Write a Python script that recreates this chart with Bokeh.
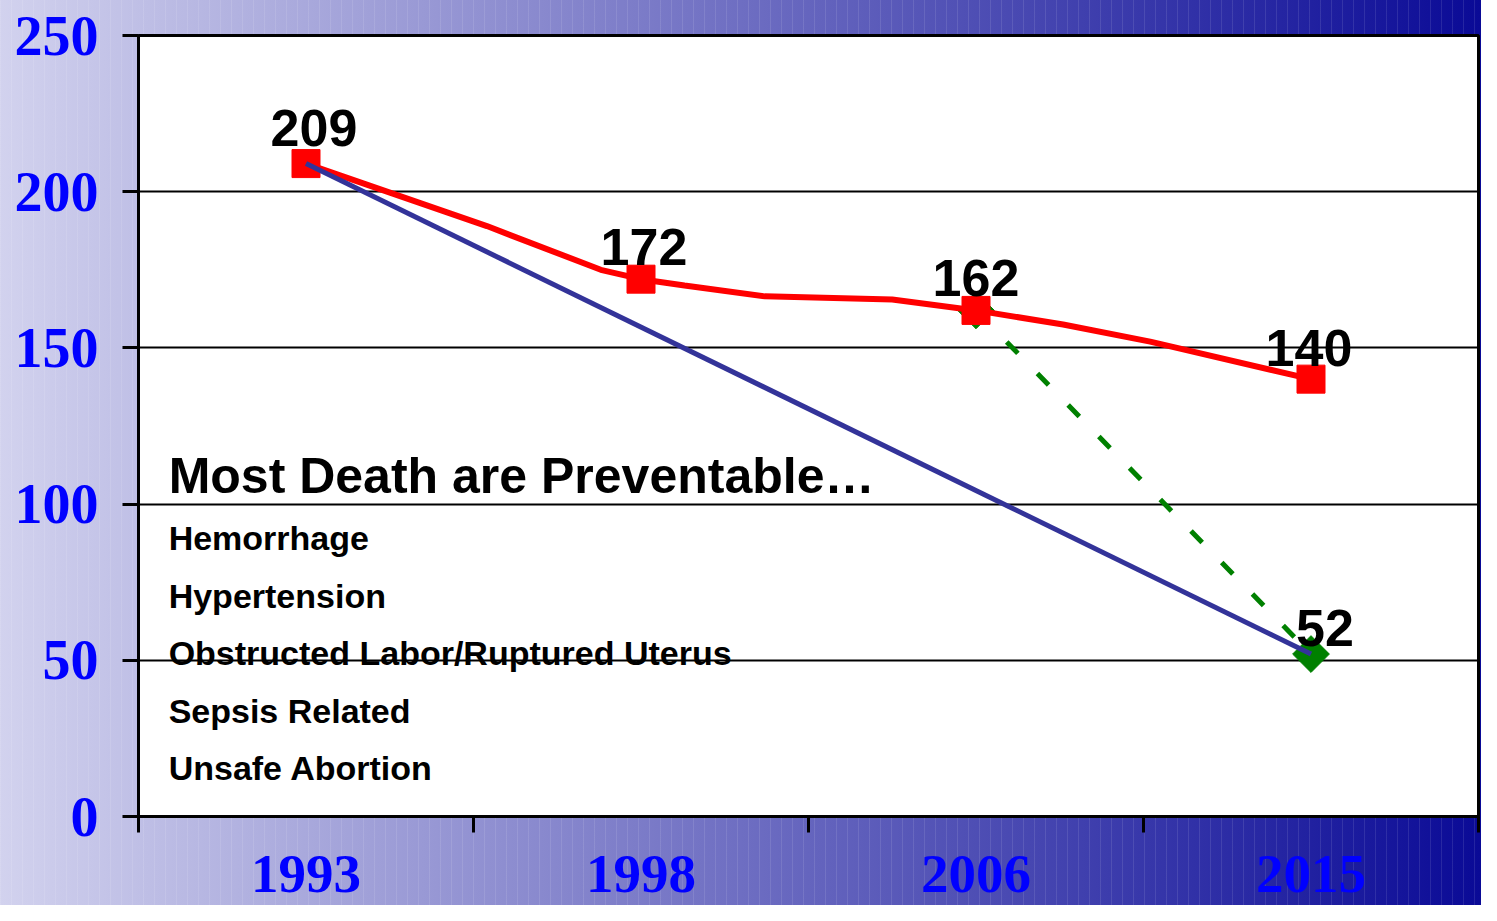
import math
from bokeh.plotting import figure
from bokeh.models import ColumnDataSource, FixedTicker, LabelSet, Label, InlineStyleSheet
from bokeh.core.properties import value
from bokeh.embed import file_html
from bokeh.resources import INLINE

# ---------------- data ----------------
years = ["1993", "1998", "2006", "2015"]
mmr = [209, 172, 162, 140]
# red trend path as drawn in the picture (x in category units, 0.5 = 1993 ... 3.5 = 2015)
trend_x = [0.5, 1.04, 1.38, 1.5, 1.63, 1.87, 2.25, 2.5, 2.76, 3.02, 3.5]
trend_y = [209, 189, 175, 172, 170, 166.5, 165.5, 162, 157.5, 152, 140]
target_years = ["1993", "2015"]
target_vals = [209, 52]
needed_years = ["2006", "2015"]
needed_vals = [162, 52]
y_ticks = [0, 50, 100, 150, 200, 250]
title_text = "Most Death are Preventable…"
causes = ["Hemorrhage", "Hypertension", "Obstructed Labor/Ruptured Uterus",
          "Sepsis Related", "Unsafe Abortion"]

pos = {y: i + 0.5 for i, y in enumerate(years)}

SANS = "Liberation Sans"
SERIF = "Liberation Serif"

p = figure(width=1481, height=905, x_range=(0, 4), y_range=(0, 250),
           output_backend="svg", toolbar_location=None,
           min_border_left=138, min_border_right=3, min_border_top=35,
           min_border_bottom=89)

p.background_fill_color = "white"
p.border_fill_color = None
p.outline_line_color = "black"
p.outline_line_width = 3
p.stylesheets = [InlineStyleSheet(css="""
:host {
  background:
    repeating-linear-gradient(90deg, rgba(255,255,255,0.10) 0px, rgba(255,255,255,0.10) 1px,
                              rgba(255,255,255,0) 1px, rgba(255,255,255,0) 11px),
    linear-gradient(to right, #d2d2ee 0%, #0a0a96 100%);
}
""")]

# x axis: labels centred in categories, ticks at boundaries
xa = p.xaxis[0]
xa.ticker = FixedTicker(ticks=[pos[y] for y in years], minor_ticks=[0, 1, 2, 3, 4])
xa.major_label_overrides = {pos[y]: y for y in years}
xa.major_tick_line_color = None
xa.major_tick_out = 0
xa.major_tick_in = 0
xa.minor_tick_out = 16
xa.minor_tick_in = 0
xa.minor_tick_line_width = 3
xa.minor_tick_line_color = "black"
xa.axis_line_width = 3
xa.axis_line_color = "black"
xa.major_label_text_font = SERIF
xa.major_label_text_font_style = "bold"
xa.major_label_text_font_size = "55px"
xa.major_label_text_color = "#0000FF"
xa.major_label_standoff = 23

ya = p.yaxis[0]
ya.ticker = FixedTicker(ticks=y_ticks)
ya.minor_tick_line_color = None
ya.major_tick_out = 16
ya.major_tick_in = 0
ya.major_tick_line_width = 3
ya.major_tick_line_color = "black"
ya.axis_line_width = 3
ya.axis_line_color = "black"
ya.major_label_text_font = SERIF
ya.major_label_text_font_style = "bold"
ya.major_label_text_font_size = "56px"
ya.major_label_text_color = "#0000FF"
ya.major_label_standoff = 24

p.xgrid.visible = False
p.ygrid.ticker = FixedTicker(ticks=y_ticks)
p.ygrid.grid_line_color = "black"
p.ygrid.grid_line_width = 2

# green dashed projection
p.line([pos[y] for y in needed_years], needed_vals, line_color="#008000",
       line_width=5, line_dash="16 28")
p.scatter([pos[y] for y in needed_years], needed_vals, marker="square",
          angle=math.pi / 4, size=26, fill_color="#008000", line_color="#008000")

# red reported trend
p.line(trend_x, trend_y, line_color="#FF0000", line_width=6)
p.scatter([pos[y] for y in years], mmr, marker="square", size=28,
          fill_color="#FF0000", line_color="#FF0000")

# blue target line
p.line([pos[y] for y in target_years], target_vals, line_color="#333399", line_width=5)

# value labels
lab_src = ColumnDataSource(dict(
    x=[pos[y] for y in years] + [pos["2015"]],
    y=mmr + [needed_vals[-1]],
    text=[str(v) for v in mmr] + [str(needed_vals[-1])],
    xo=[8, 3, 0, -2, 14],
    yo=[18, 14, 14, 13, 8],
))
p.add_layout(LabelSet(x="x", y="y", text="text", source=lab_src,
                      x_offset="xo", y_offset="yo",
                      text_align="center", text_baseline="alphabetic",
                      text_font=value(SANS), text_font_style="bold",
                      text_font_size="52px", text_color="black"))

# text block
p.add_layout(Label(x=0.09, y=109, text=title_text, text_font=SANS,
                   text_font_style="bold", text_font_size="50px",
                   text_color="black", text_baseline="alphabetic"))
for i, c in enumerate(causes):
    p.add_layout(Label(x=0.09, y=89 - i * 18.4, text=c, text_font=SANS,
                       text_font_style="bold", text_font_size="34px",
                       text_color="black", text_baseline="alphabetic"))

open("out.html", "w").write(file_html(p, INLINE))
